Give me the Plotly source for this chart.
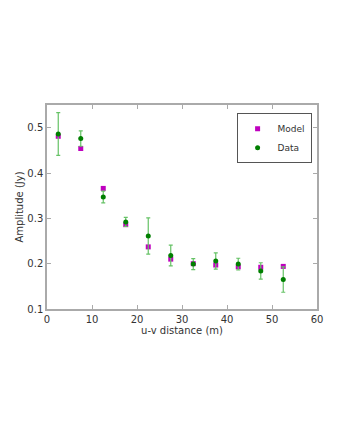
import plotly.graph_objects as go

# u-v distance bins (m)
uv_dist = [2.5, 7.5, 12.5, 17.5, 22.5, 27.5, 32.5, 37.5, 42.5, 47.5, 52.5]

# model amplitudes (Jy)
model_amp = [0.481, 0.454, 0.366, 0.286, 0.237, 0.210, 0.200, 0.197, 0.193, 0.192, 0.194]

# measured amplitudes (Jy) and their errors
data_amp = [0.486, 0.476, 0.347, 0.292, 0.261, 0.218, 0.199, 0.206, 0.199, 0.184, 0.165]
data_err = [0.047, 0.017, 0.013, 0.010, 0.040, 0.023, 0.012, 0.018, 0.013, 0.018, 0.028]

x_ticks = [0, 10, 20, 30, 40, 50, 60]
y_ticks = [0.1, 0.2, 0.3, 0.4, 0.5]

fig = go.Figure()

fig.add_trace(go.Scatter(
    x=uv_dist, y=model_amp, mode="markers", name="Model",
    marker=dict(symbol="square", size=5, color="#bf00bf",
                line=dict(width=0)),
))

fig.add_trace(go.Scatter(
    x=uv_dist, y=data_amp, mode="markers", name="Data",
    marker=dict(symbol="circle", size=5, color="#007f00",
                line=dict(width=0)),
    error_y=dict(type="data", array=data_err, visible=True,
                 color="#66c266", thickness=1.2, width=2),
))

axis_style = dict(
    showline=True, linecolor="#aaaaaa", linewidth=1.5, mirror="ticks",
    ticks="inside", ticklen=4, tickcolor="#aaaaaa", tickwidth=1,
    showgrid=False, zeroline=False, automargin=False,
    tickfont=dict(size=10, color="#333333"),
)

fig.update_xaxes(range=[0, 60], tickvals=x_ticks,
                 title=dict(text="u-v distance (m)", font=dict(size=10, color="#333333"),
                            standoff=2),
                 **axis_style)
fig.update_yaxes(range=[0.1, 0.55], tickvals=y_ticks, ticktext=[str(v) for v in y_ticks],
                 title=dict(text="Amplitude (Jy)", font=dict(size=10, color="#333333"),
                            standoff=2),
                 **axis_style)

# the page body adds an offset, so margins are trimmed to land the axes in place
fig.update_layout(
    width=340, height=440,
    margin=dict(l=39, r=31, t=97, b=139),
    plot_bgcolor="white", paper_bgcolor="white",
    font=dict(family="DejaVu Sans", size=10, color="#333333"),
    legend=dict(x=0.98, y=0.96, xanchor="right", yanchor="top",
                bordercolor="#555555", borderwidth=1, bgcolor="white",
                font=dict(size=9, color="#333333"),
                itemwidth=30, tracegroupgap=0),
    showlegend=True,
)

fig.write_html("out.html")
